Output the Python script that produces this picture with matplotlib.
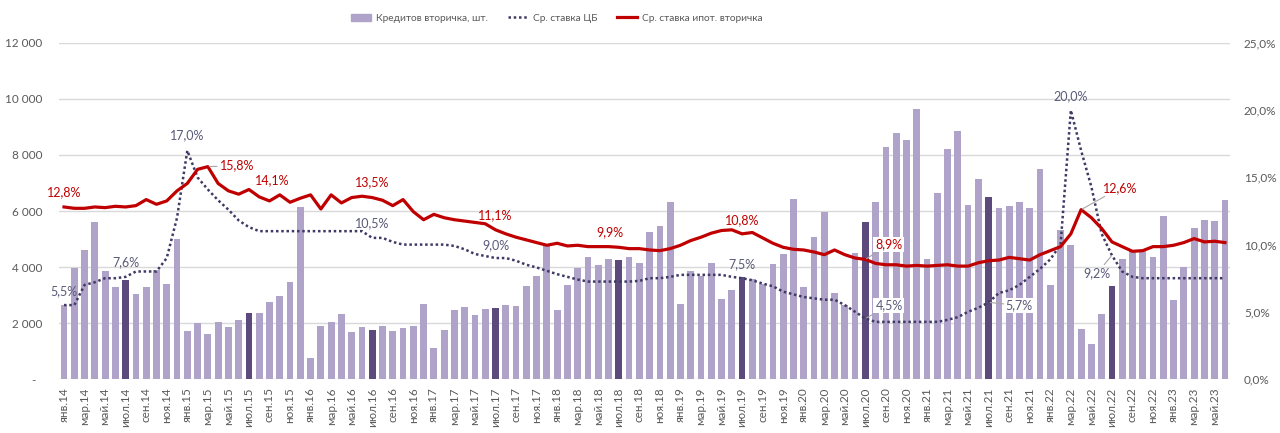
import matplotlib
matplotlib.use("Agg")
import matplotlib.pyplot as plt
from matplotlib.patches import Patch
from matplotlib.lines import Line2D

plt.rcParams["font.family"] = ["Lato", "DejaVu Sans"]

MONTHS = ["янв", "фев", "мар", "апр", "май", "июн", "июл", "авг", "сен", "окт", "ноя", "дек"]
labels = [f"{MONTHS[i % 12]}.{14 + i // 12}" for i in range(114)]

# кредитов вторичка, шт.
loans = [2650, 3950, 4600, 5600, 3850, 3300, 3540, 3050, 3290, 3890, 3380, 5000,
         1730, 2010, 1600, 2040, 1870, 2120, 2370, 2370, 2740, 2950, 3480, 6130,
         760, 1890, 2040, 2320, 1690, 1870, 1760, 1900, 1730, 1820, 1900, 2680,
         1120, 1750, 2460, 2570, 2270, 2510, 2550, 2630, 2610, 3320, 3670, 4790,
         2460, 3360, 3980, 4360, 4060, 4270, 4240, 4370, 4130, 5240, 5460, 6320,
         2690, 3860, 3690, 4130, 2870, 3180, 3650, 3560, 3390, 4110, 4450, 6420,
         3300, 5070, 5950, 3060, 2630, 4510, 5620, 6320, 8270, 8770, 8520, 9630,
         4300, 6630, 8210, 8860, 6230, 7130, 6500, 6120, 6170, 6330, 6120, 7510,
         3370, 5310, 4800, 1800, 1240, 2320, 3330, 4270, 4560, 4600, 4370, 5810,
         2820, 4000, 5400, 5680, 5660, 6390]

# ср. ставка ЦБ, %
cb_rate = [5.5, 5.5, 7.0, 7.2, 7.5, 7.5, 7.6, 8.0, 8.0, 8.0, 9.0, 12.0,
           17.0, 15.0, 14.1, 13.3, 12.6, 11.8, 11.3, 11.0, 11.0, 11.0, 11.0, 11.0,
           11.0, 11.0, 11.0, 11.0, 11.0, 11.0, 10.5, 10.5, 10.2, 10.0, 10.0, 10.0,
           10.0, 10.0, 9.9, 9.65, 9.3, 9.15, 9.0, 9.0, 8.8, 8.5, 8.3, 8.05,
           7.8, 7.6, 7.4, 7.25, 7.25, 7.25, 7.25, 7.25, 7.3, 7.5, 7.5, 7.6,
           7.75, 7.75, 7.75, 7.75, 7.75, 7.6, 7.5, 7.35, 7.1, 6.9, 6.5, 6.3,
           6.1, 6.0, 5.9, 5.9, 5.5, 5.0, 4.5, 4.25, 4.25, 4.25, 4.25, 4.25,
           4.25, 4.25, 4.4, 4.6, 5.0, 5.3, 5.7, 6.4, 6.6, 7.0, 7.6, 8.2,
           8.9, 10.0, 20.0, 17.0, 14.3, 10.8, 9.2, 8.0, 7.6, 7.5, 7.5, 7.5,
           7.5, 7.5, 7.5, 7.5, 7.5, 7.5]

# ср. ставка ипот. вторичка, %
mort_rate = [12.8, 12.7, 12.7, 12.8, 12.75, 12.85, 12.8, 12.9, 13.35, 13.0, 13.25, 14.0,
             14.55, 15.6, 15.8, 14.55, 14.0, 13.75, 14.1, 13.55, 13.25, 13.7, 13.15, 13.45,
             13.7, 12.65, 13.7, 13.1, 13.5, 13.6, 13.5, 13.3, 12.9, 13.35, 12.45, 11.85,
             12.25, 12.0, 11.85, 11.75, 11.65, 11.55, 11.1, 10.8, 10.55, 10.35, 10.15, 9.95,
             10.1, 9.9, 9.95, 9.85, 9.85, 9.85, 9.8, 9.7, 9.7, 9.6, 9.55, 9.7,
             9.95, 10.3, 10.55, 10.85, 11.05, 11.1, 10.8, 10.9, 10.5, 10.1, 9.8, 9.65,
             9.6, 9.45, 9.25, 9.6, 9.25, 9.0, 8.9, 8.6, 8.5, 8.5, 8.4, 8.45,
             8.4, 8.45, 8.5, 8.4, 8.4, 8.65, 8.8, 8.85, 9.05, 8.95, 8.85, 9.25,
             9.55, 9.85, 10.8, 12.6, 12.0, 11.2, 10.2, 9.85, 9.5, 9.55, 9.85, 9.85,
             9.95, 10.15, 10.45, 10.2, 10.25, 10.15]

# подписи: (ряд, индекс, текст, dx, dy, выравнивание, рамка, выноска)
notes = [("mort", 0, "12,8%", 0, 15, "center", False, False),
         ("cb", 0, "5,5%", 0, 14, "center", False, False),
         ("cb", 6, "7,6%", 0, 15, "center", False, False),
         ("cb", 12, "17,0%", 0, 15, "center", False, False),
         ("mort", 14, "15,8%", 12, 1, "left", False, True),
         ("mort", 18, "14,1%", 23, 9, "center", False, False),
         ("mort", 30, "13,5%", 0, 15, "center", False, False),
         ("cb", 30, "10,5%", 0, 15, "center", False, False),
         ("mort", 42, "11,1%", 0, 15, "center", False, False),
         ("cb", 42, "9,0%", 0, 13, "center", False, False),
         ("mort", 54, "9,9%", -9, 15, "center", False, False),
         ("mort", 66, "10,8%", 0, 14, "center", False, False),
         ("cb", 66, "7,5%", 0, 14, "center", False, False),
         ("mort", 78, "8,9%", 10, 15, "left", True, True),
         ("cb", 78, "4,5%", 10, 13, "left", True, True),
         ("cb", 90, "5,7%", 17, -3, "left", True, True),
         ("cb", 98, "20,0%", 0, 14, "center", False, False),
         ("mort", 99, "12,6%", 22, 22, "left", False, True),
         ("cb", 102, "9,2%", -15, -18, "center", False, True)]

LIGHT = "#B0A3C9"
DARK = "#5B4A7B"
RED = "#C00000"
NAVY = "#3F3965"
GREY = "#595959"

x = list(range(len(loans)))
colors = [DARK if i % 12 == 6 else LIGHT for i in x]

fig = plt.figure(figsize=(12.8, 4.33), dpi=100)
ax = fig.add_axes([0.046, 0.1247, 0.915, 0.776])
ax2 = ax.twinx()

ax.bar(x, loans, width=0.66, color=colors, zorder=2)
ax.set_ylim(0, 12000)
ax.set_yticks(range(0, 12001, 2000))
ax.set_yticklabels(["-  "] + [f"{v:,}".replace(",", " ") for v in range(2000, 12001, 2000)])
ax.grid(axis="y", color="#D9D9D9", lw=1, zorder=0)
ax.set_axisbelow(True)
ax.set_xlim(-0.5, len(loans) - 0.5)
ax.set_xticks(x[::2])
ax.set_xticklabels(labels[::2], rotation=90)

ax2.plot(x, cb_rate, color=NAVY, lw=1.8, ls=(0, (1, 1.1)), zorder=3)
ax2.plot(x, mort_rate, color=RED, lw=2.3, zorder=4)
ax2.set_ylim(0, 25)
ax2.set_yticks(range(0, 26, 5))
ax2.set_yticklabels([f"{v:.1f}%".replace(".", ",") for v in range(0, 26, 5)])

for a in (ax, ax2):
    for s in a.spines.values():
        s.set_visible(False)
    a.tick_params(length=0, colors=GREY, labelsize=8.5)
ax.tick_params(axis="y", pad=12)
ax.tick_params(axis="x", pad=6)
ax2.tick_params(axis="y", pad=10)

series = {"mort": mort_rate, "cb": cb_rate}
for name, i, txt, dx, dy, ha, box, lead in notes:
    col = RED if name == "mort" else "#5A5A78"
    kw = {}
    if box:
        kw["bbox"] = dict(boxstyle="square,pad=0.15", fc="white", ec="none")
    if lead:
        kw["arrowprops"] = dict(arrowstyle="-", color="#A6A6A6", lw=0.8, shrinkA=0, shrinkB=1)
    ax2.annotate(txt, (i, series[name][i]), xytext=(dx, dy), textcoords="offset pixels",
                 ha=ha, va="center", fontsize=9, color=col, zorder=6, **kw)

handles = [Patch(color=LIGHT),
           Line2D([], [], color=NAVY, lw=1.8, ls=(0, (1, 1.1))),
           Line2D([], [], color=RED, lw=2.3)]
names = ["Кредитов вторичка, шт.", "Ср. ставка ЦБ", "Ср. ставка ипот. вторичка"]
fig.legend(handles, names, loc="center", bbox_to_anchor=(0.435, 0.958), ncol=3, frameon=False,
           fontsize=7.3, labelcolor=GREY, handlelength=2.0, handletextpad=0.5,
           columnspacing=1.9, handleheight=0.7)

fig.savefig("out.png", dpi=100)
